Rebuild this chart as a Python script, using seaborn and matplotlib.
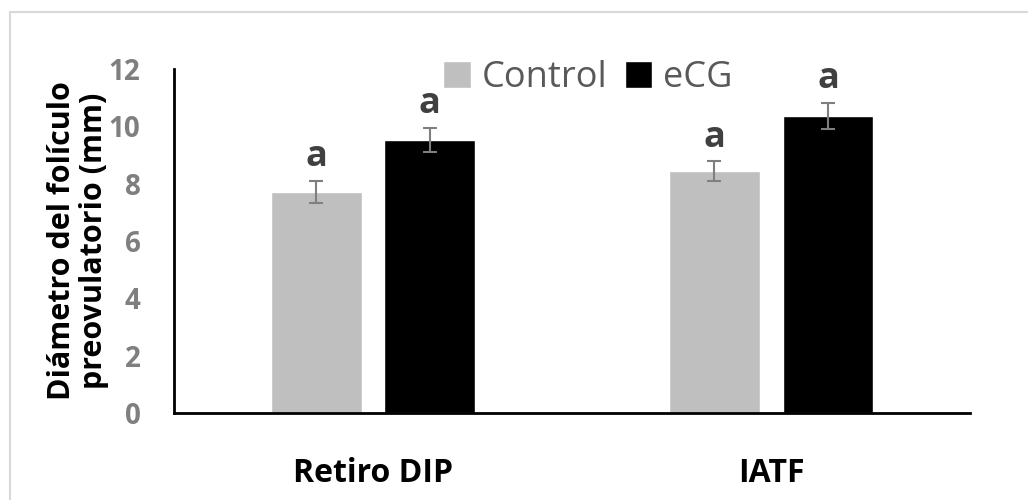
import pandas as pd
import numpy as np
import seaborn as sns
import matplotlib.pyplot as plt
from matplotlib.patches import Rectangle

# datos
grupos = ["Retiro DIP", "IATF"]
tratamientos = ["Control", "eCG"]
control = [7.71, 8.43]
ecg = [9.52, 10.37]
err_control = [0.40, 0.35]
err_ecg = [0.42, 0.45]
letras_control = ["a", "a"]
letras_ecg = ["a", "a"]

df = pd.DataFrame({
    "grupo": grupos * 2,
    "tratamiento": ["Control"] * 2 + ["eCG"] * 2,
    "diametro": control + ecg,
})
errores = {"Control": err_control, "eCG": err_ecg}
letras = {"Control": letras_control, "eCG": letras_ecg}

sns.set_theme(style="white")
plt.rcParams['font.family'] = ['Open Sans', 'DejaVu Sans']

fig = plt.figure(figsize=(10.28, 5), dpi=100)
ax = fig.add_axes([0.169, 0.174, 0.775, 0.688])

sns.barplot(data=df, x="grupo", y="diametro", hue="tratamiento", order=grupos,
            hue_order=tratamientos, palette={"Control": "#bfbfbf", "eCG": "black"},
            width=0.57, gap=0.2, errorbar=None, ax=ax)

# barras de error y letras
for cont, trat in zip(ax.containers, tratamientos):
    for k, bar in enumerate(cont):
        xc = bar.get_x() + bar.get_width() / 2
        h = bar.get_height()
        e = errores[trat][k]
        ax.errorbar(xc, h, yerr=e, fmt="none", ecolor="#7f7f7f", elinewidth=1.5,
                    capsize=5, capthick=1.5)
        ax.annotate(letras[trat][k], (xc, h + e), xytext=(0, 4), textcoords="offset points",
                    ha="center", va="bottom", fontsize=26, fontweight="bold", color="#404040")

ax.set_xlim(-0.5, 1.5)
ax.set_ylim(0, 12)
ax.set_yticks(np.arange(0, 13, 2))
ax.tick_params(axis="y", length=0, pad=24, labelsize=20, labelcolor="#7f7f7f")
ax.tick_params(axis="x", length=0, pad=32, labelsize=23)
for lab in ax.get_yticklabels():
    lab.set_fontweight("bold")
for lab in ax.get_xticklabels():
    lab.set_fontweight("bold")
    lab.set_color("black")

ax.set_xlabel("")
ax.set_ylabel("Diámetro del folículo\npreovulatorio (mm)", fontsize=22, fontweight="bold",
              color="black", labelpad=0, linespacing=1.05)

sns.despine(ax=ax)
for s in ["left", "bottom"]:
    ax.spines[s].set_color("black")
    ax.spines[s].set_linewidth(2)

leg = ax.legend(loc="upper center", bbox_to_anchor=(0.52, 1.12), ncol=2, frameon=False,
                fontsize=26, handlelength=0.75, handleheight=0.75, handletextpad=0.3,
                columnspacing=0.5)
for t in leg.get_texts():
    t.set_color("#595959")

# marco exterior
fig.patches.append(Rectangle((0.0097, -0.05), 1.1, 1.026, transform=fig.transFigure,
                             fill=False, edgecolor="#d9d9d9", linewidth=1.5, zorder=0))

fig.savefig("out.png", dpi=100)
